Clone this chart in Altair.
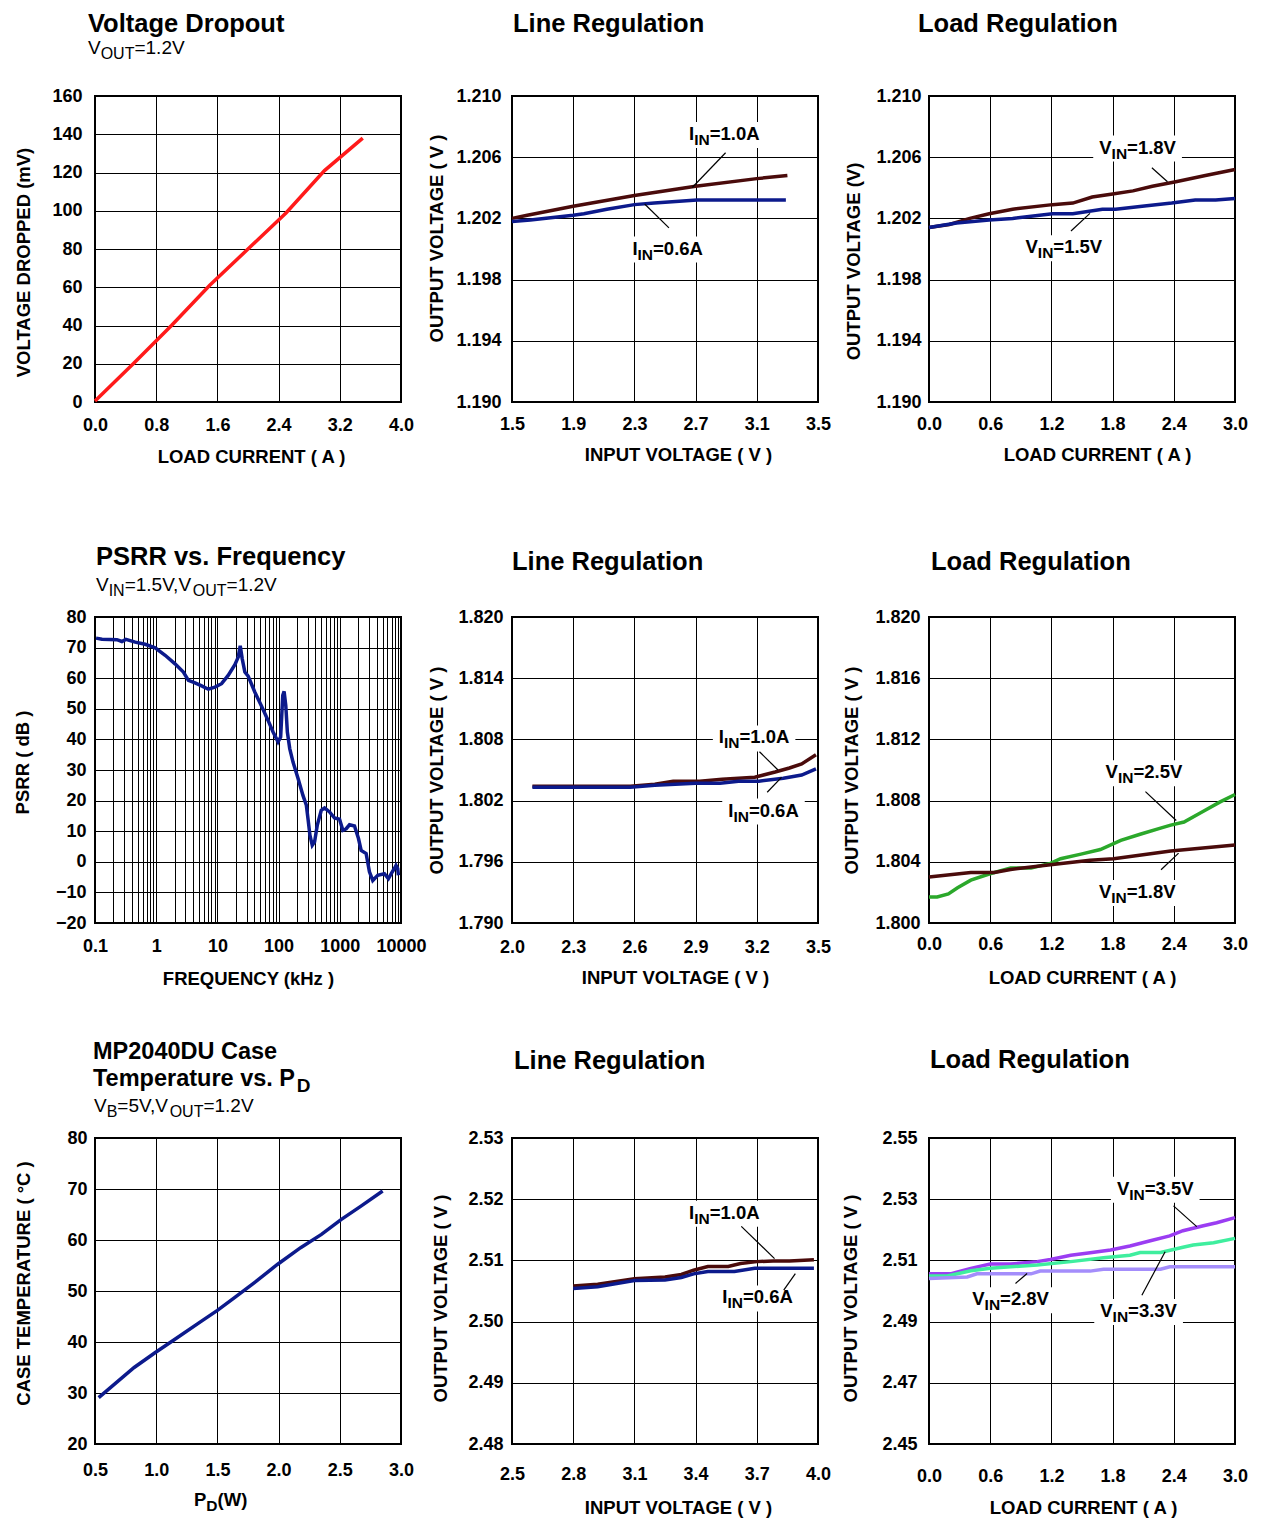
import altair as alt
import pandas as pd

FONT = "Liberation Sans"
W = 306
H = 306

RED = "#FF1A1A"
MAROON = "#4A0B0B"
NAVY = "#0C1A8C"
GREEN = "#2BA82B"
PURPLE = "#9B3DF2"
MINT = "#3FEE9E"
LAVENDER = "#A48DFB"

# ---------------- data ----------------
# Voltage Dropout (Vout = 1.2V)
vd_current = [0.0, 0.5, 1.0, 1.5, 2.0, 2.5, 3.0, 3.5]
vd_dropped = [0.5, 20, 40, 61, 80, 99, 121, 138]

# Line Regulation, Vout = 1.2V
lr12_vin_10 = [1.5, 1.6, 1.9, 2.3, 2.7, 3.1, 3.3]
lr12_vout_10 = [1.2020, 1.2022, 1.2028, 1.2035, 1.2041, 1.2046, 1.2048]
lr12_vin_06 = [1.5, 1.62, 1.9, 1.97, 2.12, 2.3, 2.43, 2.71, 3.29]
lr12_vout_06 = [1.2018, 1.2019, 1.2022, 1.2023, 1.2026, 1.2029, 1.2030, 1.2032, 1.2032]

# Load Regulation, Vout = 1.2V
ld12_i_18 = [0, 0.2, 0.4, 0.59, 0.82, 1.21, 1.41, 1.60, 1.80, 2.0, 2.19, 2.42, 2.71, 3.0]
ld12_v_18 = [1.2014, 1.2016, 1.2020, 1.2023, 1.2026, 1.2029, 1.2030, 1.2034, 1.2036,
             1.2038, 1.2041, 1.2044, 1.2048, 1.2052]
ld12_i_15 = [0, 0.27, 0.59, 0.82, 1.21, 1.41, 1.70, 1.83, 2.09, 2.38, 2.61, 2.81, 3.0]
ld12_v_15 = [1.2014, 1.2017, 1.2019, 1.2020, 1.2023, 1.2023, 1.2026, 1.2026, 1.2028,
             1.2030, 1.2032, 1.2032, 1.2033]

# PSRR vs Frequency (kHz)
psrr_freq = [0.104, 0.13, 0.228, 0.275, 0.32, 0.454, 0.66, 0.961, 1.40, 2.03,
             2.78, 3.36, 4.31, 5.53, 7.10, 9.12, 11.7, 15.0, 19.3, 21.9,
             23.6, 25.4, 28.1, 31.8, 40.8, 52.5, 67.3, 81.2, 97.9, 108,
             117, 123, 131, 139, 152, 172, 208, 250, 284, 302,
             325, 355, 387, 428, 498, 564, 680, 820, 990, 1122,
             1271, 1442, 1738, 2019, 2233, 2692, 3050, 3457, 4170, 5355,
             6224, 7047, 7788, 8295, 8831, 9060]
psrr_db = [73.1, 72.7, 72.6, 72.0, 72.7, 71.8, 71.1, 69.9, 67.5, 64.7,
           62.0, 59.3, 58.5, 57.5, 56.4, 57.1, 58.2, 60.9, 64.4, 66.9,
           70.6, 66.4, 62.0, 60.7, 55.5, 50.9, 46.2, 42.4, 39.2, 40.8,
           54.4, 55.7, 51.1, 42.4, 37.0, 32.6, 27.2, 21.7, 18.5, 14.1,
           8.7, 5.4, 6.5, 11.9, 16.8, 17.6, 16.3, 14.3, 13.9, 10.3,
           10.8, 12.1, 11.7, 7.6, 3.7, 2.7, -3.3, -6.1, -4.4, -3.9,
           -5.5, -3.6, -2.2, -1.2, -2.2, -4.4]

# Line Regulation, Vout = 1.8V
lr18_vin_10 = [2.1, 2.58, 2.70, 2.79, 2.92, 3.03, 3.19, 3.29, 3.36, 3.42, 3.49]
lr18_vout_10 = [1.8034, 1.8034, 1.8036, 1.8039, 1.8039, 1.8041, 1.8043, 1.8048, 1.8052, 1.8056, 1.8065]
lr18_vin_06 = [2.1, 2.58, 2.70, 2.90, 3.02, 3.11, 3.21, 3.33, 3.42, 3.49]
lr18_vout_06 = [1.8033, 1.8033, 1.8035, 1.8037, 1.8037, 1.8039, 1.8039, 1.8042, 1.8045, 1.8051]

# Load Regulation, Vout = 1.8V
ld18_i_25 = [0, 0.08, 0.19, 0.28, 0.41, 0.59, 0.80, 1.0, 1.19, 1.29, 1.49, 1.68, 1.88,
             2.07, 2.27, 2.37, 2.50, 2.69, 2.85, 3.0]
ld18_v_25 = [1.8017, 1.8017, 1.8019, 1.8023, 1.8028, 1.8032, 1.8036, 1.8036, 1.8039, 1.8042,
             1.8045, 1.8048, 1.8054, 1.8058, 1.8062, 1.8064, 1.8066, 1.8073, 1.8079, 1.8084]
ld18_i_18 = [0, 0.41, 0.64, 0.80, 1.19, 1.58, 1.81, 2.37, 3.0]
ld18_v_18 = [1.8030, 1.8033, 1.8033, 1.8035, 1.8038, 1.8041, 1.8042, 1.8047, 1.8051]

# Case temperature vs PD
pd_watts = [0.53, 0.82, 0.99, 1.15, 1.37, 1.50, 1.64, 1.80, 1.99, 2.18, 2.35, 2.51, 2.67, 2.85]
case_temp = [29.1, 35.0, 37.9, 40.5, 44.1, 46.2, 48.7, 51.6, 55.2, 58.5, 61.1, 64.0, 66.6, 69.6]

# Line Regulation, Vout = 2.5V
lr25_vin_10 = [2.80, 2.92, 3.10, 3.25, 3.33, 3.39, 3.46, 3.56, 3.62, 3.70, 3.78, 3.86, 3.98]
lr25_vout_10 = [2.5058, 2.5061, 2.5070, 2.5073, 2.5077, 2.5084, 2.5090, 2.5090, 2.5095,
                2.5098, 2.5099, 2.5099, 2.5101]
lr25_vin_06 = [2.80, 2.92, 3.10, 3.25, 3.33, 3.39, 3.46, 3.59, 3.69, 3.98]
lr25_vout_06 = [2.5054, 2.5057, 2.5067, 2.5068, 2.5072, 2.5078, 2.5082, 2.5082, 2.5087, 2.5087]

# Load Regulation, Vout = 2.5V
ld25_i_35 = [0, 0.21, 0.41, 0.60, 0.80, 1.06, 1.19, 1.39, 1.58, 1.78, 1.97, 2.17, 2.36,
             2.49, 2.69, 2.82, 3.0]
ld25_v_35 = [2.5056, 2.5056, 2.5074, 2.5088, 2.5088, 2.5096, 2.5103, 2.5117, 2.5125, 2.5134,
             2.5147, 2.5164, 2.5180, 2.5197, 2.5213, 2.5223, 2.5240]
ld25_i_33 = [0, 0.18, 0.41, 0.60, 0.80, 1.06, 1.39, 1.71, 1.97, 2.07, 2.27, 2.49, 2.59, 2.79, 3.0]
ld25_v_33 = [2.5049, 2.5049, 2.5066, 2.5074, 2.5079, 2.5085, 2.5096, 2.5109, 2.5117, 2.5126,
             2.5126, 2.5143, 2.5150, 2.5158, 2.5172]
ld25_i_28 = [0, 0.375, 0.47, 1.0, 1.09, 1.58, 1.71, 2.27, 2.36, 3.0]
ld25_v_28 = [2.5041, 2.5046, 2.5056, 2.5056, 2.5065, 2.5065, 2.5071, 2.5071, 2.5079, 2.5079]

# annotation labels: (x, y, main, subscript, rest) ; leaders: (x, y, x2, y2)
lr12_labels = [(2.657, 1.20712, "I", "IN", "=1.0A"), (2.287, 1.19964, "I", "IN", "=0.6A")]
lr12_leaders = [(2.896, 1.20629, 2.678, 1.20402), (2.526, 1.20138, 2.367, 1.20294)]
ld12_labels = [(1.669, 1.20624, "V", "IN", "=1.8V"), (0.946, 1.19973, "V", "IN", "=1.5V")]
ld12_leaders = [(2.185, 1.20531, 2.338, 1.20440), (1.392, 1.20118, 1.578, 1.20233)]
lr18_labels = [(3.014, 1.80761, "I", "IN", "=1.0A"), (3.060, 1.80044, "I", "IN", "=0.6A")]
lr18_leaders = [(3.213, 1.80679, 3.304, 1.80500), (3.251, 1.80282, 3.321, 1.80428)]
ld18_labels = [(1.731, 1.80946, "V", "IN", "=2.5V"), (1.666, 1.80163, "V", "IN", "=1.8V")]
ld18_leaders = [(2.122, 1.80859, 2.424, 1.80670), (2.275, 1.80348, 2.447, 1.80457)]
lr25_labels = [(3.368, 2.51681, "I", "IN", "=1.0A"), (3.531, 2.50296, "I", "IN", "=0.6A")]
lr25_leaders = [(3.624, 2.51556, 3.787, 2.51029), (3.832, 2.50514, 3.889, 2.50785)]
ld25_labels = [(1.842, 2.53142, "V", "IN", "=3.5V"), (1.679, 2.49153, "V", "IN", "=3.3V"),
               (0.424, 2.49536, "V", "IN", "=2.8V")]
ld25_leaders = [(2.397, 2.52781, 2.625, 2.52104), (2.087, 2.49863, 2.315, 2.51284),
                (0.848, 2.50246, 0.962, 2.50574)]

# ---------------- helpers ----------------
NBSP = "\u00a0"
REG = {" ": 278, NBSP: 278, ",": 278, ".": 278, "=": 584, "(": 333, ")": 333, "A": 667, "B": 667,
       "D": 722, "I": 278, "N": 722, "O": 778, "P": 667, "T": 611, "U": 722, "V": 667, "W": 944}
BOLD = {" ": 278, NBSP: 278, ".": 278, "=": 584, "(": 333, ")": 333, "A": 722, "B": 722,
        "C": 722, "D": 722, "F": 611, "I": 278, "L": 611, "M": 833, "N": 722, "O": 778,
        "P": 667, "R": 722, "S": 667, "T": 611, "U": 722, "V": 667, "W": 944,
        "a": 556, "c": 556, "e": 556, "g": 611, "i": 278, "l": 278, "m": 889, "n": 611,
        "o": 611, "p": 611, "q": 611, "r": 389, "s": 556, "t": 333, "u": 611, "v": 556, "y": 556}
for _d in "0123456789":
    REG[_d] = 556
    BOLD[_d] = 556


def text_width(s, size, bold=False):
    table = BOLD if bold else REG
    return sum(table.get(c, 600) for c in s) * size / 1000.0


STYLES = {"title": (25.5, 20, 6, True), "title2": (23.5, 19, 6, True),
          "sub": (19, 16, 5, False), "axis": (18.5, 15.5, 5, True)}
LAB_N, LAB_S = 18.5, 15.5


def pixel_text(px, py, segs, style):
    size_n, size_s, shift, bold = STYLES[style]
    layers = []
    off = 0.0
    for text, kind in segs:
        size = size_n if kind == "n" else size_s
        dy = shift if kind == "s" else 0
        layers.append(
            alt.Chart(pd.DataFrame({"t": [text]}))
            .mark_text(font=FONT, fontSize=size, fontWeight="bold" if bold else "normal",
                       align="left", baseline="alphabetic", color="black")
            .encode(x=alt.value(px + off), y=alt.value(py + dy), text="t:N")
        )
        off += text_width(text, size, bold)
    return layers


LOG_LABEL = ("abs(log(datum.value)/LN10 - round(log(datum.value)/LN10)) < 0.01"
             " ? format(datum.value, '~g') : ''")


def panel(series, xdom, ydom, xvals, yvals, xfmt, yfmt, xtitle, ytitle,
          xt_dx, xt_y, yt_x, yt_dy, xlab_pad, ylab_pad, titles,
          labels=(), leaders=(), xlog=False):
    xcommon = dict(values=xvals, titleX=W / 2 + xt_dx, titleY=xt_y, titleBaseline="top",
                   titleAlign="center", labelPadding=xlab_pad, labelBaseline="top")
    xcommon["title"] = xtitle
    if xlog:
        xs = alt.Scale(type="log", domain=xdom, nice=False)
        xax = alt.Axis(labelExpr=LOG_LABEL, **xcommon)
    else:
        xs = alt.Scale(domain=xdom, nice=False, zero=False)
        xax = alt.Axis(format=xfmt, **xcommon)
    ys = alt.Scale(domain=ydom, nice=False, zero=False)
    yax = alt.Axis(values=yvals, format=yfmt, title=ytitle, titleX=yt_x, titleY=H / 2 + yt_dy,
                   titleAngle=270, titleBaseline="middle", titleAlign="center",
                   labelPadding=ylab_pad)

    def X(f="x"):
        return alt.X(f + ":Q", scale=xs, axis=xax)

    def Y(f="y"):
        return alt.Y(f + ":Q", scale=ys, axis=yax)

    layers = []
    ux = (xdom[1] - xdom[0]) / W
    uy = (ydom[1] - ydom[0]) / H
    if labels:
        rows = []
        for lx, ly, main, sub, rest in labels:
            w = text_width(main, LAB_N, True) + text_width(sub, LAB_S, True) + text_width(rest, LAB_N, True)
            rows.append({"x": lx - 6 * ux, "x2": lx + (w + 6) * ux,
                         "y": ly - 8 * uy, "y2": ly + 18 * uy})
        layers.append(alt.Chart(pd.DataFrame(rows)).mark_rect(color="white")
                      .encode(x=X(), x2="x2:Q", y=Y(), y2="y2:Q"))

    rows = []
    for name, xv, yv, col in series:
        for a, b in zip(xv, yv):
            rows.append({"x": a, "y": b, "s": name, "c": col})
    layers.append(
        alt.Chart(pd.DataFrame(rows)).mark_line(strokeWidth=3.5)
        .encode(x=X(), y=Y(), detail="s:N", color=alt.Color("c:N", scale=None))
    )
    if leaders:
        ldf = pd.DataFrame([{"x": a, "y": b, "x2": c, "y2": d} for a, b, c, d in leaders])
        layers.append(alt.Chart(ldf).mark_rule(color="black", strokeWidth=1.2)
                      .encode(x=X(), y=Y(), x2="x2:Q", y2="y2:Q"))
    for lx, ly, main, sub, rest in labels:
        off = 0.0
        for text, size, dy in ((main, LAB_N, 0), (sub, LAB_S, 5), (rest, LAB_N, 0)):
            df = pd.DataFrame({"x": [lx], "y": [ly], "t": [text]})
            layers.append(
                alt.Chart(df).mark_text(font=FONT, fontSize=size, fontWeight="bold", align="left",
                                        baseline="alphabetic", color="black", dx=off, dy=dy)
                .encode(x=X(), y=Y(), text="t:N")
            )
            off += text_width(text, size, True)
    for px, py, segs, style in titles:
        layers.extend(pixel_text(px, py, segs, style))
    return alt.layer(*layers).properties(width=W, height=H)


def title1(px, py, text, style="title"):
    return (px, py, [(text, "n")], style)


SUB_12 = [("V", "n"), ("OUT", "s"), ("=1.2V", "n")]

p1 = panel([("drop", vd_current, vd_dropped, RED)], [0, 4.0], [0, 160],
           [0, 0.8, 1.6, 2.4, 3.2, 4.0], [0, 20, 40, 60, 80, 100, 120, 140, 160], ".1f", "d",
           "LOAD CURRENT ( A )", "VOLTAGE DROPPED (mV)", 3, 45, -72, 13, 14, 13,
           [title1(-7, -64, "Voltage Dropout"), (-7, -42, SUB_12, "sub")])

p2 = panel([("1.0A", lr12_vin_10, lr12_vout_10, MAROON), ("0.6A", lr12_vin_06, lr12_vout_06, NAVY)],
           [1.5, 3.5], [1.190, 1.210], [1.5, 1.9, 2.3, 2.7, 3.1, 3.5],
           [1.190, 1.194, 1.198, 1.202, 1.206, 1.210], ".1f", ".3f",
           "INPUT VOLTAGE ( V )", "OUTPUT VOLTAGE ( V )", 13, 43, -76, -11, 13, 11,
           [title1(1, -64, "Line Regulation")], lr12_labels, lr12_leaders)

p3 = panel([("1.8V", ld12_i_18, ld12_v_18, MAROON), ("1.5V", ld12_i_15, ld12_v_15, NAVY)],
           [0, 3.0], [1.190, 1.210], [0, 0.6, 1.2, 1.8, 2.4, 3.0],
           [1.190, 1.194, 1.198, 1.202, 1.206, 1.210], ".1f", ".3f",
           "LOAD CURRENT ( A )", "OUTPUT VOLTAGE (V)", 15, 43, -76, 12, 13, 8,
           [title1(-11, -64, "Load Regulation")], ld12_labels, ld12_leaders)

psrr_ticks = []
for dec in [0.1, 1, 10, 100, 1000]:
    for m in range(1, 10):
        psrr_ticks.append(round(dec * m, 6))
psrr_ticks.append(10000)

p4 = panel([("psrr", psrr_freq, psrr_db, NAVY)], [0.1, 10000], [-20, 80],
           psrr_ticks, list(range(-20, 81, 10)), None, "d",
           "FREQUENCY (kHz )", "PSRR ( dB )", 0, 46, -73, -8, 14, 9,
           [title1(1, -52, "PSRR vs. Frequency"),
            (1, -26, [("V", "n"), ("IN", "s"), ("=1.5V,V", "n"), ("OUT", "s"), ("=1.2V", "n")], "sub")],
           xlog=True)

p5 = panel([("1.0A", lr18_vin_10, lr18_vout_10, MAROON), ("0.6A", lr18_vin_06, lr18_vout_06, NAVY)],
           [2.0, 3.5], [1.790, 1.820], [2.0, 2.3, 2.6, 2.9, 3.2, 3.5],
           [1.790, 1.796, 1.802, 1.808, 1.814, 1.820], ".1f", ".3f",
           "INPUT VOLTAGE ( V )", "OUTPUT VOLTAGE ( V )", 10, 45, -76, 0, 15, 9,
           [title1(0, -47, "Line Regulation")], lr18_labels, lr18_leaders)

p6 = panel([("2.5V", ld18_i_25, ld18_v_25, GREEN), ("1.8V", ld18_i_18, ld18_v_18, MAROON)],
           [0, 3.0], [1.800, 1.820], [0, 0.6, 1.2, 1.8, 2.4, 3.0],
           [1.800, 1.804, 1.808, 1.812, 1.816, 1.820], ".1f", ".3f",
           "LOAD CURRENT ( A )", "OUTPUT VOLTAGE ( V )", 0, 45, -78, 0, 12, 9,
           [title1(2, -47, "Load Regulation")], ld18_labels, ld18_leaders)

p7 = panel([("temp", pd_watts, case_temp, NAVY)], [0.5, 3.0], [20, 80],
           [0.5, 1.0, 1.5, 2.0, 2.5, 3.0], [20, 30, 40, 50, 60, 70, 80], ".1f", "d",
           None, "CASE TEMPERATURE ( °C )", 0, 52, -72, -8, 17, 8,
           [title1(-2, -79, "MP2040DU Case", "title2"),
            (-2, -52, [("Temperature vs. P", "n"), ("D", "s")], "title2"),
            (-1, -26, [("V", "n"), ("B", "s"), ("=5V,V", "n"), ("OUT", "s"), ("=1.2V", "n")], "sub"),
            (99, H + 62, [("P", "n"), ("D", "s"), (NBSP + "(W)", "n")], "axis")])

p8 = panel([("1.0A", lr25_vin_10, lr25_vout_10, MAROON), ("0.6A", lr25_vin_06, lr25_vout_06, NAVY)],
           [2.5, 4.0], [2.48, 2.53], [2.5, 2.8, 3.1, 3.4, 3.7, 4.0],
           [2.48, 2.49, 2.50, 2.51, 2.52, 2.53], ".1f", ".2f",
           "INPUT VOLTAGE ( V )", "OUTPUT VOLTAGE ( V )", 13, 54, -72, 7, 21, 9,
           [title1(2, -69, "Line Regulation")], lr25_labels, lr25_leaders)

p9 = panel([("3.5V", ld25_i_35, ld25_v_35, PURPLE), ("3.3V", ld25_i_33, ld25_v_33, MINT),
            ("2.8V", ld25_i_28, ld25_v_28, LAVENDER)],
           [0, 3.0], [2.45, 2.55], [0, 0.6, 1.2, 1.8, 2.4, 3.0],
           [2.45, 2.47, 2.49, 2.51, 2.53, 2.55], ".1f", ".2f",
           "LOAD CURRENT ( A )", "OUTPUT VOLTAGE ( V )", 1, 54, -79, 7, 23, 12,
           [title1(1, -70, "Load Regulation")], ld25_labels, ld25_leaders)

chart = (
    alt.concat(p1, p2, p3, p4, p5, p6, p7, p8, p9, columns=3,
               spacing={"row": 215, "column": 111}, bounds="flush")
    .properties(padding={"left": 4, "top": 3, "right": 6, "bottom": 0}, background="white")
    .configure_axis(labelFont=FONT, labelFontSize=18, labelFontWeight="bold", labelColor="black",
                    titleFont=FONT, titleFontSize=18.5, titleFontWeight="bold", titleColor="black",
                    grid=True, gridColor="black", gridWidth=1, gridOpacity=1,
                    domain=False, ticks=False, tickSize=0,
                    labelFlush=False, labelOverlap=False)
    .configure_view(stroke="black", strokeWidth=2)
)

chart.save("out.html", embed_options={"renderer": "svg", "actions": False})
